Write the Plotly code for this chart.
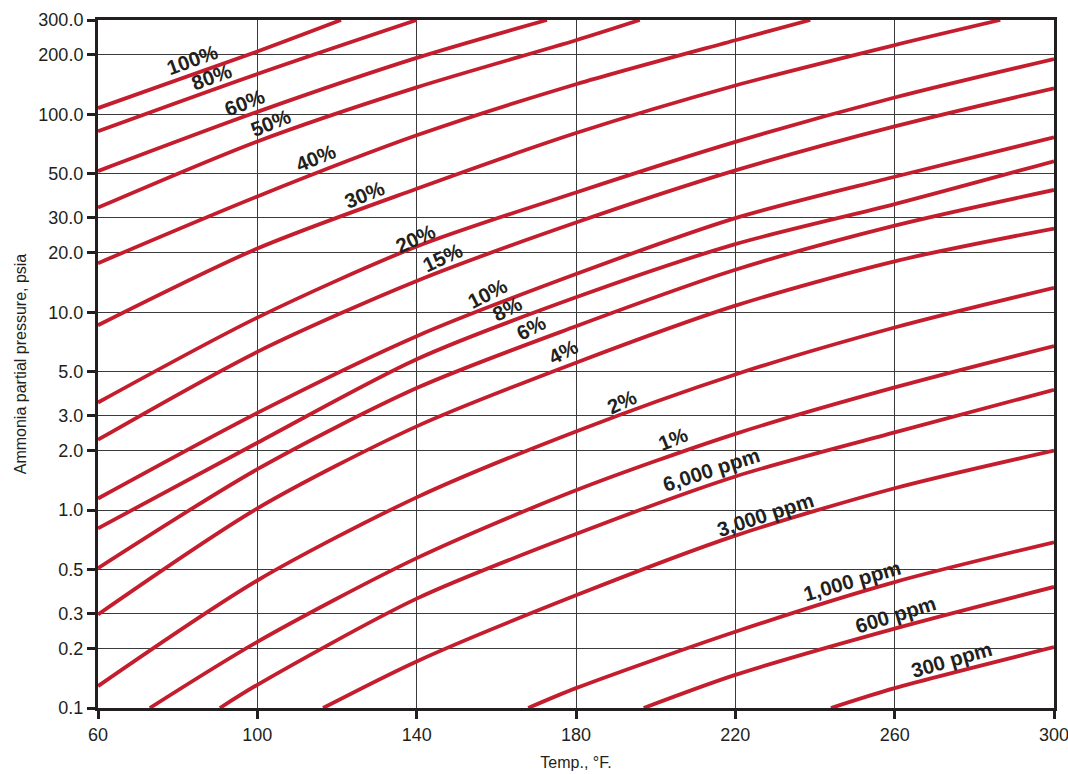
import math
import plotly.graph_objects as go

# ---- data ----
labels = ["100%", "80%", "60%", "50%", "40%", "30%", "20%", "15%", "10%", "8%",
          "6%", "4%", "2%", "1%", "6,000 ppm", "3,000 ppm", "1,000 ppm", "600 ppm", "300 ppm"]

T7 = [60, 100, 140, 180, 220, 260, 300]

t_100 = [60, 100, 121]
p_100 = [107.6, 208, 300]
t_80 = [60, 100, 140]
p_80 = [82.2, 160, 300]
t_60 = [60, 100, 140, 172.7]
p_60 = [51.7, 103, 193, 300]
t_50 = [60, 100, 140, 180, 196]
p_50 = [33.8, 73, 137, 237, 300]
t_40 = [60, 100, 140, 180, 220, 238.8]
p_40 = [17.7, 38.5, 78.4, 142, 237, 300]
t_30 = [60, 100, 140, 180, 220, 260, 286.5]
p_30 = [8.6, 21.0, 42.1, 80.5, 140, 224, 300]
p_20 = [3.5, 9.4, 21.5, 40.3, 72.6, 121.7, 190.5]
p_15 = [2.27, 6.31, 14.4, 28.4, 52.1, 87, 135.5]
p_10 = [1.145, 3.10, 7.57, 15.6, 29.9, 48.4, 76.6]
p_8 = [0.809, 2.19, 5.79, 11.9, 22.1, 35.2, 58.0]
p_6 = [0.509, 1.61, 4.14, 8.5, 16.4, 27.4, 41.5]
p_4 = [0.297, 1.02, 2.65, 5.56, 10.8, 18.1, 26.5]
p_2 = [0.129, 0.441, 1.16, 2.5, 4.85, 8.38, 13.3]
t_1 = [73, 100, 140, 180, 220, 260, 300]
p_1 = [0.1, 0.216, 0.572, 1.26, 2.43, 4.17, 6.75]
t_6000 = [90.6, 100, 140, 180, 220, 260, 300]
p_6000 = [0.1, 0.131, 0.357, 0.757, 1.48, 2.47, 4.06]
t_3000 = [116.5, 140, 180, 220, 260, 300]
p_3000 = [0.1, 0.172, 0.371, 0.743, 1.29, 2.0]
t_1000 = [168, 180, 220, 260, 300]
p_1000 = [0.1, 0.126, 0.243, 0.433, 0.688]
t_600 = [197, 220, 260, 300]
p_600 = [0.1, 0.147, 0.252, 0.409]
t_300 = [244, 260, 300]
p_300 = [0.1, 0.126, 0.203]

series = [
    (t_100, p_100), (t_80, p_80), (t_60, p_60), (t_50, p_50), (t_40, p_40),
    (t_30, p_30), (T7, p_20), (T7, p_15), (T7, p_10), (T7, p_8), (T7, p_6),
    (T7, p_4), (T7, p_2), (t_1, p_1), (t_6000, p_6000), (t_3000, p_3000),
    (t_1000, p_1000), (t_600, p_600), (t_300, p_300),
]

# label anchor positions (temperature, pressure) and text angle
label_t = [83.7, 88.6, 96.7, 103.4, 114.7, 126.8, 139.6, 146.4, 157.7, 162.7,
           168.7, 176.7, 191.6, 204.4, 213.9, 227.5, 249.3, 260.1, 274.2]
label_p = [189, 155, 115, 91.2, 60.8, 39.2, 23.5, 18.9, 12.4, 10.5,
           8.41, 6.37, 3.53, 2.30, 1.61, 0.955, 0.440, 0.297, 0.176]
label_angle = [-20, -20, -21, -22, -22, -22, -25, -25, -27, -27,
               -27, -27, -25, -22, -18, -18, -16, -17, -16]

x_ticks = [60, 100, 140, 180, 220, 260, 300]
y_ticks = [0.1, 0.2, 0.3, 0.5, 1, 2, 3, 5, 10, 20, 30, 50, 100, 200, 300]
y_ticktext = ["0.1", "0.2", "0.3", "0.5", "1.0", "2.0", "3.0", "5.0", "10.0",
              "20.0", "30.0", "50.0", "100.0", "200.0", "300.0"]

RED = "#c41e2e"
INK = "#231f20"
FONT = "Liberation Sans, Arial, Helvetica, sans-serif"

fig = go.Figure()
for name, (tx, py) in zip(labels, series):
    fig.add_trace(go.Scatter(
        x=tx, y=py, mode="lines", name=name,
        line=dict(color=RED, width=3.8, shape="spline", smoothing=0.8),
        hoverinfo="name+x+y", showlegend=False, cliponaxis=True,
    ))

for txt, lt, lp, ang in zip(labels, label_t, label_p, label_angle):
    fig.add_annotation(
        x=lt, y=math.log10(lp), xref="x", yref="y", text="<b>%s</b>" % txt,
        showarrow=False, textangle=ang,
        font=dict(family=FONT, size=20.5, color=INK),
        bgcolor="rgba(0,0,0,0)",
    )

fig.update_layout(
    width=1068, height=774,
    margin=dict(l=98, r=14, t=20, b=66, autoexpand=False),
    paper_bgcolor="white", plot_bgcolor="white",
    font=dict(family=FONT, size=16, color=INK),
    showlegend=False,
)
fig.update_xaxes(
    range=[60, 300], tickvals=x_ticks, ticktext=[str(v) for v in x_ticks],
    showgrid=True, gridcolor="#3a3a3a", gridwidth=1.2,
    showline=True, linecolor=INK, linewidth=3, mirror=True,
    ticks="outside", ticklen=8, tickwidth=3, tickcolor=INK,
    tickfont=dict(size=18, color=INK, family=FONT),
    ticklabeloverflow="allow",
    title=dict(text="Temp., °F.", font=dict(size=16, color=INK, family=FONT), standoff=14),
    zeroline=False, automargin=False,
)
fig.update_yaxes(
    type="log", range=[-1, math.log10(300)],
    tickvals=y_ticks, ticktext=y_ticktext,
    showgrid=True, gridcolor="#3a3a3a", gridwidth=1.2,
    showline=True, linecolor=INK, linewidth=3, mirror=True,
    ticks="outside", ticklen=8, tickwidth=3, tickcolor=INK,
    tickfont=dict(size=18, color=INK, family=FONT),
    ticklabeloverflow="allow",
    title=dict(text="Ammonia partial pressure, psia", font=dict(size=16, color=INK, family=FONT), standoff=8),
    zeroline=False, automargin=False,
)

fig.write_html("out.html")
